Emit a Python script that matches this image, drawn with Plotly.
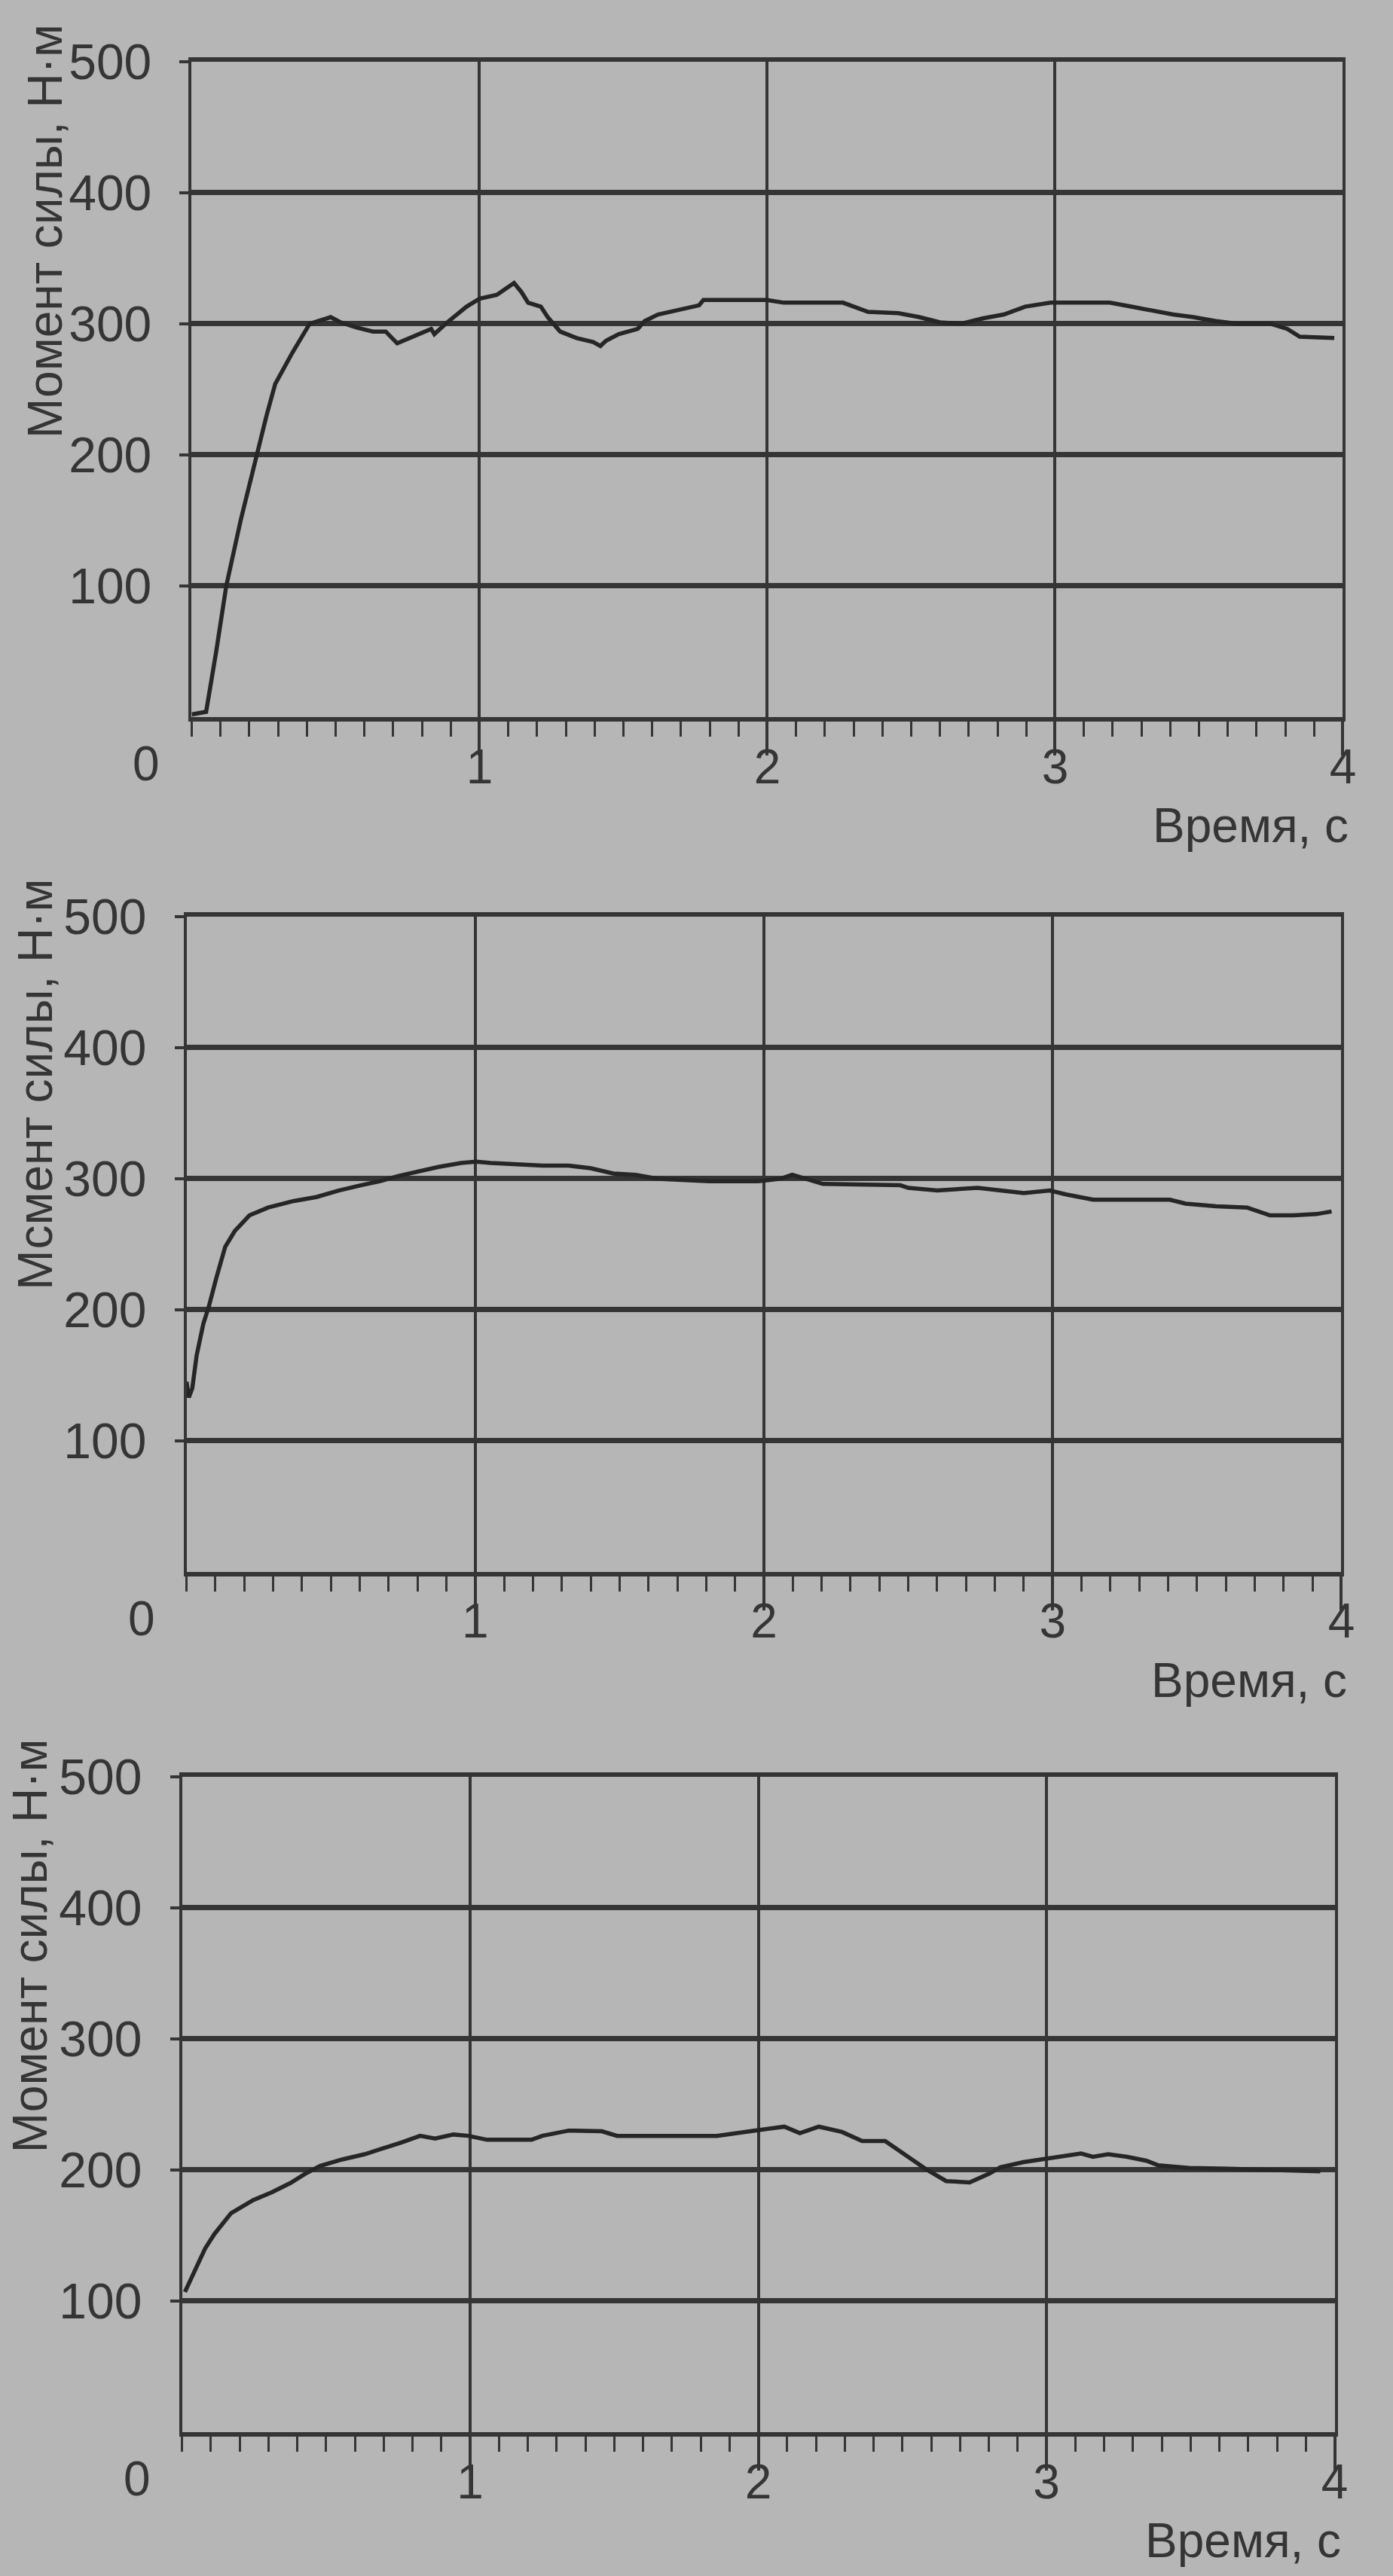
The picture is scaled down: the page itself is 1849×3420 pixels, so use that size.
import plotly.graph_objects as go

# Torque vs time, three test runs
t1 = [0.00, 0.05, 0.085, 0.12, 0.17, 0.224, 0.26, 0.29, 0.35, 0.41, 0.443, 0.483, 0.517, 0.573,
      0.63, 0.674, 0.714, 0.775, 0.832, 0.843, 0.888, 0.955, 1.0, 1.06, 1.12, 1.146, 1.169,
      1.213, 1.237, 1.28, 1.338, 1.395, 1.42, 1.44, 1.484, 1.55, 1.574, 1.62, 1.686, 1.763,
      1.778, 1.998, 2.057, 2.263, 2.35, 2.455, 2.528, 2.6, 2.675, 2.748, 2.822, 2.896, 2.984,
      3.19, 3.264, 3.337, 3.41, 3.48, 3.558, 3.632, 3.747, 3.807, 3.85, 3.97]
m1 = [2, 4, 50, 100, 150, 200, 230, 254, 278, 300, 302, 305, 301, 297,
      294, 294, 285, 291, 296, 292, 301, 313, 319, 322, 331, 324, 316,
      313, 305, 294, 289, 286, 283, 287, 292, 296, 302, 307, 310, 314,
      318, 318, 316, 316, 309, 308, 305, 301, 300, 304, 307, 313, 316,
      316, 313, 310, 307, 305, 302, 300, 300, 296, 290, 289]

t2 = [0.0, 0.008, 0.02, 0.035, 0.058, 0.078, 0.103, 0.134, 0.167, 0.218, 0.283, 0.372, 0.45,
      0.527, 0.604, 0.668, 0.733, 0.81, 0.873, 0.951, 1.003, 1.054, 1.144, 1.234, 1.323, 1.4,
      1.478, 1.555, 1.632, 1.722, 1.81, 1.888, 1.98, 2.058, 2.098, 2.204, 2.472, 2.5, 2.6,
      2.74, 2.9, 2.99, 3.046, 3.14, 3.273, 3.406, 3.46, 3.566, 3.673, 3.753, 3.834, 3.914, 3.966]
m2 = [145, 133, 140, 165, 189, 203, 224, 248, 260, 272, 278, 283, 286,
      291, 295, 298, 302, 306, 309, 312, 313, 312, 311, 310, 310, 308,
      304, 303, 300, 299, 298, 298, 298, 300, 303, 296, 295, 293, 291,
      293, 289, 291, 288, 284, 284, 284, 281, 279, 278, 272, 272, 273, 275]

t3 = [0.01, 0.048, 0.08, 0.112, 0.17, 0.247, 0.312, 0.376, 0.427, 0.479, 0.556, 0.634, 0.711,
      0.762, 0.826, 0.878, 0.942, 0.994, 1.058, 1.213, 1.25, 1.342, 1.457, 1.51, 1.664, 1.767,
      1.856, 1.986, 2.09, 2.144, 2.21, 2.29, 2.36, 2.44, 2.52, 2.586, 2.652, 2.733, 2.8, 2.84,
      2.92, 3.013, 3.12, 3.161, 3.214, 3.28, 3.347, 3.388, 3.495, 3.629, 3.762, 3.95]
m3 = [107, 125, 140, 151, 167, 177, 183, 190, 197, 203, 208, 212, 217,
      221, 226, 224, 227, 226, 223, 223, 226, 230, 229.5, 226, 226, 226,
      226, 230, 233, 228, 233, 229, 222, 222, 210, 200, 191.5, 190.5, 197, 202,
      206, 209, 212.5, 210, 212, 210, 207, 203.5, 201.5, 201, 200, 199]

x_ticks = [1, 2, 3, 4]
y_ticks = [100, 200, 300, 400, 500]
y_titles = ["Момент силы, Н·м", "Мсмент силы, Н·м", "Момент силы, Н·м"]
x_title = "Время, с"

series = [(t1, m1), (t2, m2), (t3, m3)]

W, H = 1849, 3420
# panel frames in pixels: (left, right, top, bottom)
frames = [(257, 1800, 45, 925), (250, 1798, 1193, 2072), (244, 1789, 2347, 3227)]
title_x = [60, 48, 40]

BG = "#b6b6b6"
INK = "#353535"
FONT = "Liberation Sans, Arial, sans-serif"

fig = go.Figure()
layout = dict(
    width=W, height=H, margin=dict(l=0, r=0, t=0, b=0),
    paper_bgcolor=BG, plot_bgcolor=BG, showlegend=False,
    font=dict(family=FONT, color=INK, size=62),
    annotations=[],
)

for i, ((tx, my), (l, r, top, bot)) in enumerate(zip(series, frames)):
    n = "" if i == 0 else str(i + 1)
    fig.add_trace(go.Scatter(x=tx, y=my, mode="lines", xaxis="x" + n, yaxis="y" + n,
                             line=dict(color="#262626", width=5.5)))
    layout["xaxis" + n] = dict(
        domain=[l / W, r / W], anchor="y" + n, range=[0, 4],
        tickvals=x_ticks, ticktext=[str(v) for v in x_ticks],
        ticks="outside", ticklen=45, tickwidth=4, tickcolor=INK,
        minor=dict(dtick=0.1, tick0=0, ticks="outside", ticklen=20, tickwidth=3,
                   tickcolor=INK, showgrid=False),
        showgrid=True, gridcolor=INK, gridwidth=4,
        showline=True, linecolor=INK, linewidth=6, mirror=True,
        zeroline=False, tickfont=dict(size=64, color=INK),
        ticklabelstandoff=-40,
    )
    layout["yaxis" + n] = dict(
        domain=[1 - bot / H, 1 - top / H], anchor="x" + n, range=[0, 500],
        tickvals=y_ticks, ticks="outside", ticklen=12, tickwidth=4, tickcolor=INK,
        showgrid=True, gridcolor=INK, gridwidth=7,
        showline=True, linecolor=INK, linewidth=4, mirror=True,
        zeroline=False, tickfont=dict(size=66, color=INK),
        ticklabelstandoff=24,
    )
    ax = "x" + n
    ay = "y" + n
    # origin label sits left of the corner
    layout["annotations"].append(dict(
        x=0, y=0, xref=ax, yref=ay, text="0", showarrow=False,
        xanchor="center", yanchor="middle", xshift=-60, yshift=-62,
        font=dict(size=64, color=INK, family=FONT)))
    layout["annotations"].append(dict(
        x=1, y=0, xref=ax + " domain", yref=ay + " domain", text=x_title, showarrow=False,
        xanchor="right", yanchor="middle", xshift=10, yshift=-144,
        font=dict(size=64, color=INK, family=FONT)))
    layout["annotations"].append(dict(
        x=title_x[i] / W, y=1, xref="paper", yref=ay + " domain", text=y_titles[i],
        showarrow=False, textangle=-90, xanchor="center", yanchor="top", yshift=52,
        font=dict(size=64, color=INK, family=FONT)))

fig.update_layout(**layout)
fig.write_html("out.html")
